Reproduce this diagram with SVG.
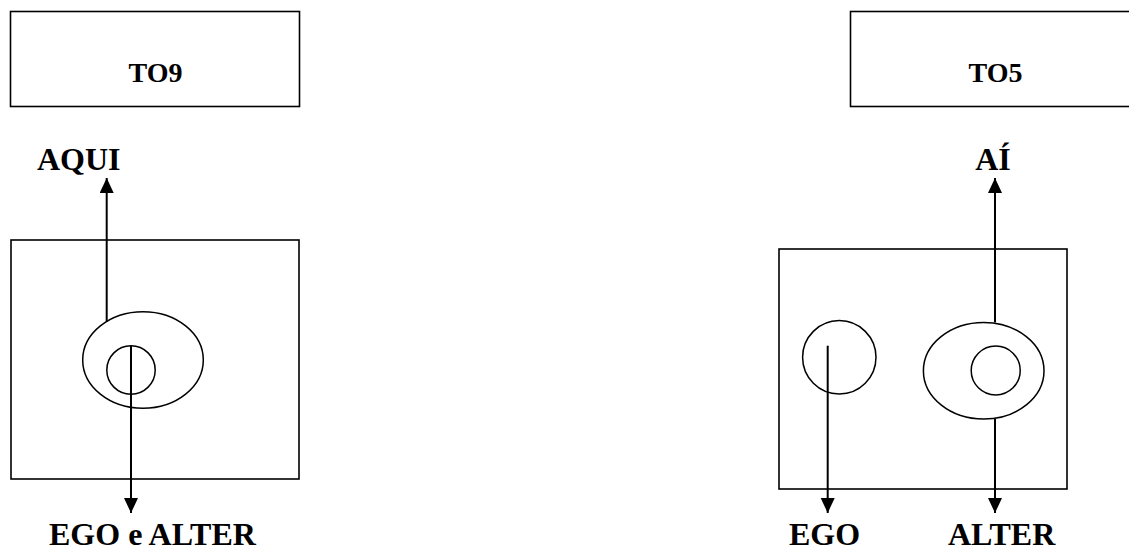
<svg xmlns="http://www.w3.org/2000/svg" width="1129" height="551" viewBox="0 0 1129 551">
  <style>
    .box { fill: none; stroke: #000; stroke-width: 1.6; }
    .shape { fill: none; stroke: #000; stroke-width: 1.5; }
    .link { fill: none; stroke: #000; stroke-width: 2; }
    .title { font-family: "Liberation Serif", "Times New Roman", serif; font-weight: bold; font-size: 28px; fill: #000; text-anchor: middle; }
    .label { font-family: "Liberation Serif", "Times New Roman", serif; font-weight: bold; font-size: 32px; fill: #000; }
  </style>
  <defs>
    <marker id="arrow" markerUnits="userSpaceOnUse" markerWidth="16" markerHeight="16" refX="15" refY="7" orient="auto">
      <path d="M0,0 L15,7 L0,14 Z" fill="#000"/>
    </marker>
  </defs>

  <rect width="1129" height="551" fill="#fff"/>

  <!-- left: TO9 -->
  <g id="to9">
    <rect class="box" x="10.5" y="11.5" width="289" height="95"/>
    <text class="title" x="155.5" y="82">TO9</text>
  </g>
  <g id="aqui">
    <text class="label" x="37" y="170">AQUI</text>
  </g>
  <g id="frame-left">
    <rect class="box" x="11" y="240" width="288" height="239"/>
  </g>
  <g id="ego-alter-shared">
    <ellipse class="shape" cx="143" cy="360" rx="60.3" ry="48.3"/>
    <circle class="shape" cx="131" cy="370" r="24.2"/>
  </g>
  <g id="ego-e-alter">
    <text class="label" x="49" y="545">EGO e ALTER</text>
  </g>

  <!-- right: TO5 -->
  <g id="to5">
    <rect class="box" x="850.5" y="11.5" width="290" height="95"/>
    <text class="title" x="995.5" y="82">TO5</text>
  </g>
  <g id="ai">
    <text class="label" x="993" y="170" text-anchor="middle">AÍ</text>
  </g>
  <g id="frame-right">
    <rect class="box" x="779" y="249" width="288" height="240"/>
  </g>
  <g id="ego-circle">
    <circle class="shape" cx="839.3" cy="357.3" r="36.7"/>
  </g>
  <g id="alter-shape">
    <ellipse class="shape" cx="983.7" cy="370.7" rx="60.3" ry="48.3"/>
    <circle class="shape" cx="995.7" cy="370.5" r="24.5"/>
  </g>
  <g id="ego">
    <text class="label" x="789" y="545">EGO</text>
  </g>
  <g id="alter">
    <text class="label" x="948" y="545">ALTER</text>
  </g>

  <g id="connectors">
    <line class="link" x1="106.7" y1="321.7" x2="106.7" y2="178" marker-end="url(#arrow)"/>
    <line class="link" x1="131" y1="346" x2="131" y2="513" marker-end="url(#arrow)"/>
    <line class="link" x1="995" y1="322.5" x2="995" y2="178" marker-end="url(#arrow)"/>
    <line class="link" x1="995" y1="419" x2="995" y2="513" marker-end="url(#arrow)"/>
    <line class="link" x1="827.7" y1="345.7" x2="827.7" y2="513" marker-end="url(#arrow)"/>
  </g>
</svg>
